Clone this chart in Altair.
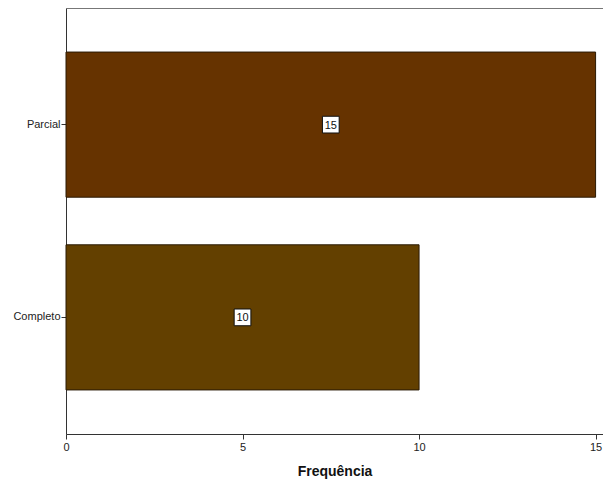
import altair as alt
import pandas as pd

categories = ["Parcial", "Completo"]
values = [15, 10]
colors = ["#663300", "#634000"]

df = pd.DataFrame({"cat": categories, "val": values, "half": [v / 2 for v in values]})

W, H = 537, 426
xscale = alt.Scale(domain=[0, 15.21], nice=False, zero=True)
yscale = alt.Scale(domain=categories, paddingInner=0.247, paddingOuter=0.2286)

base = alt.Chart(df)

bars = base.mark_bar(stroke="#2a1a05", strokeWidth=1).encode(
    x=alt.X("val:Q", scale=xscale,
            axis=alt.Axis(title="Frequência", values=[0, 5, 10, 15], grid=False,
                          labelFlush=False,
                          labelFont="Liberation Sans", labelFontSize=11, labelColor="#222",
                          tickColor="#333", tickSize=5, labelPadding=2,
                          domainColor="#333", titleFont="Liberation Sans", titleFontSize=14,
                          titleFontWeight="bold", titleColor="#111", titlePadding=12)),
    y=alt.Y("cat:N", scale=yscale, sort=categories,
            axis=alt.Axis(title=None, grid=False, labelFont="Liberation Sans", labelFontSize=11,
                          labelColor="#222", tickColor="#333", tickSize=5, labelPadding=1,
                          domainColor="#333")),
    color=alt.Color("cat:N", scale=alt.Scale(domain=categories, range=colors), legend=None),
)

boxes = base.mark_point(shape="square", filled=True, fill="white", stroke="#111",
                        strokeWidth=1, opacity=1, size=280).encode(
    x=alt.X("half:Q", scale=xscale),
    y=alt.Y("cat:N", scale=yscale, sort=categories),
)

labels = base.mark_text(font="Liberation Sans", fontSize=11, color="#111",
                        align="center", baseline="middle", dy=1).encode(
    x=alt.X("half:Q", scale=xscale),
    y=alt.Y("cat:N", scale=yscale, sort=categories),
    text=alt.Text("val:Q"),
)

topline = alt.Chart(pd.DataFrame({"a": [0]})).mark_rule(color="#777", strokeWidth=1).encode(
    x=alt.value(0), x2=alt.value(W), y=alt.value(0.5)
)

chart = alt.layer(bars, boxes, labels, topline).properties(
    width=W, height=H,
    autosize=alt.AutoSizeParams(type="none"),
    padding={"left": 58, "top": 0, "right": 0, "bottom": 47},
).configure_view(stroke=None).configure(background="white")

chart.save("out.html", embed_options={"renderer": "svg", "actions": False})
